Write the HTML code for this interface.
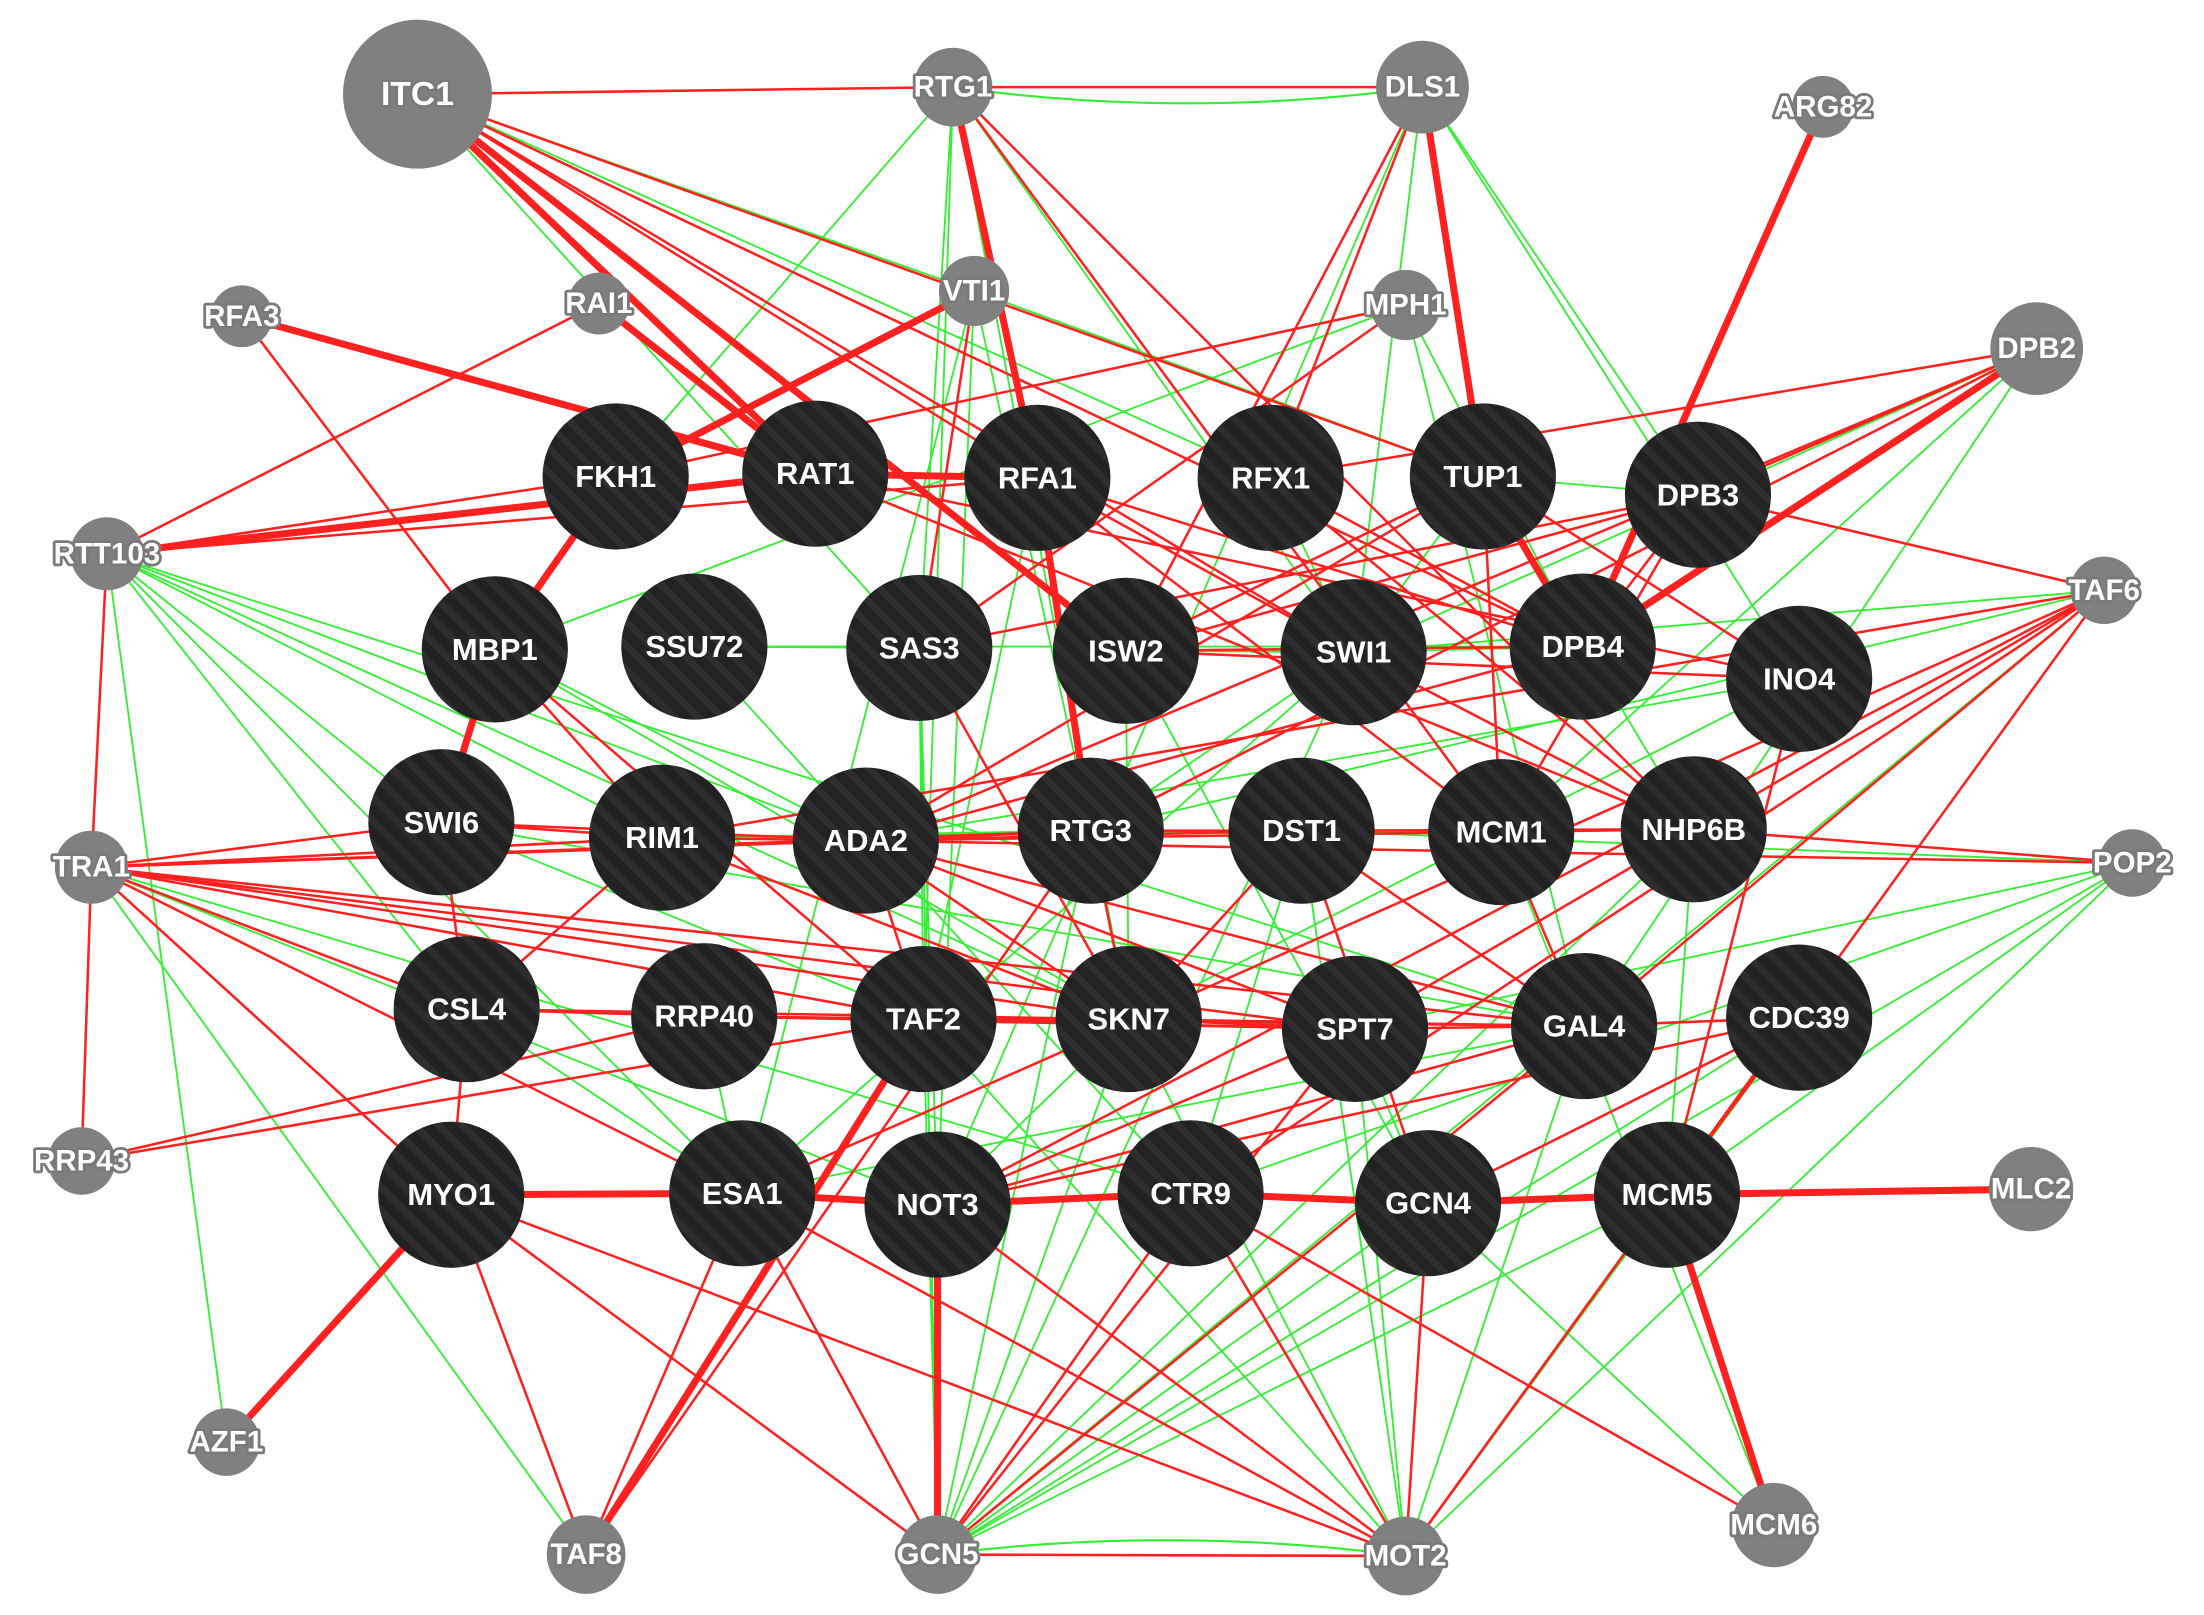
<!DOCTYPE html>
<html><head><meta charset="utf-8"><style>
html,body{margin:0;padding:0;background:#fff;}
svg{display:block;}
text{font-family:"Liberation Sans",sans-serif;font-weight:bold;text-anchor:middle;dominant-baseline:central;}
.g text{fill:#fff;font-size:21px;stroke:#7a7a7a;stroke-width:4px;paint-order:stroke;stroke-linejoin:round;}
.b text{fill:#fff;font-size:22px;}
</style></head><body>
<svg id="s" width="2204" height="1615" viewBox="0 0 1568 1149" xmlns="http://www.w3.org/2000/svg">
<defs>
<pattern id="st" width="12" height="12" patternUnits="userSpaceOnUse" patternTransform="rotate(-45)">
<rect width="12" height="12" fill="#222"/><rect width="5" height="12" fill="#2e2e2e"/>
</pattern>
</defs>
<g fill="none">
<path d="M678,62 Q845,85 1012,62" stroke="#33ee33" stroke-width="1.5"/>
<path d="M667,1106 Q833,1085 1000,1107" stroke="#33ee33" stroke-width="1.5"/>
</g>
<g id="edges"></g>
<g class="g">
<circle cx="297" cy="67" r="53" fill="#808080"/><text x="297" y="67" style="font-size:24px">ITC1</text>
<circle cx="678" cy="62" r="28" fill="#808080"/><text x="678" y="62">RTG1</text>
<circle cx="1012" cy="62" r="33" fill="#808080"/><text x="1012" y="62">DLS1</text>
<circle cx="1297" cy="76" r="22" fill="#808080"/><text x="1297" y="76">ARG82</text>
<circle cx="172" cy="225" r="22" fill="#808080"/><text x="172" y="225">RFA3</text>
<circle cx="426" cy="216" r="22" fill="#808080"/><text x="426" y="216">RAI1</text>
<circle cx="693" cy="207" r="25" fill="#808080"/><text x="693" y="207">VTI1</text>
<circle cx="1000" cy="217" r="25" fill="#808080"/><text x="1000" y="217">MPH1</text>
<circle cx="1449" cy="248" r="33" fill="#808080"/><text x="1449" y="248">DPB2</text>
<circle cx="76" cy="394" r="26" fill="#808080"/><text x="76" y="394">RTT103</text>
<circle cx="1497" cy="420" r="24" fill="#808080"/><text x="1497" y="420">TAF6</text>
<circle cx="65" cy="617" r="26" fill="#808080"/><text x="65" y="617">TRA1</text>
<circle cx="1517" cy="614" r="24" fill="#808080"/><text x="1517" y="614">POP2</text>
<circle cx="58" cy="826" r="24" fill="#808080"/><text x="58" y="826">RRP43</text>
<circle cx="1445" cy="846" r="30" fill="#808080"/><text x="1445" y="846">MLC2</text>
<circle cx="161" cy="1026" r="24" fill="#808080"/><text x="161" y="1026">AZF1</text>
<circle cx="417" cy="1106" r="28" fill="#808080"/><text x="417" y="1106">TAF8</text>
<circle cx="667" cy="1106" r="28" fill="#808080"/><text x="667" y="1106">GCN5</text>
<circle cx="1000" cy="1107" r="28" fill="#808080"/><text x="1000" y="1107">MOT2</text>
<circle cx="1262" cy="1085" r="30" fill="#808080"/><text x="1262" y="1085">MCM6</text>
</g>
<g class="b">
<circle cx="438" cy="339" r="52" fill="url(#st)"/><text x="438" y="339">FKH1</text>
<circle cx="580" cy="337" r="52" fill="url(#st)"/><text x="580" y="337">RAT1</text>
<circle cx="738" cy="340" r="52" fill="url(#st)"/><text x="738" y="340">RFA1</text>
<circle cx="904" cy="340" r="52" fill="url(#st)"/><text x="904" y="340">RFX1</text>
<circle cx="1055" cy="339" r="52" fill="url(#st)"/><text x="1055" y="339">TUP1</text>
<circle cx="1208" cy="352" r="52" fill="url(#st)"/><text x="1208" y="352">DPB3</text>
<circle cx="352" cy="462" r="52" fill="url(#st)"/><text x="352" y="462">MBP1</text>
<circle cx="494" cy="460" r="52" fill="url(#st)"/><text x="494" y="460">SSU72</text>
<circle cx="654" cy="461" r="52" fill="url(#st)"/><text x="654" y="461">SAS3</text>
<circle cx="801" cy="463" r="52" fill="url(#st)"/><text x="801" y="463">ISW2</text>
<circle cx="963" cy="464" r="52" fill="url(#st)"/><text x="963" y="464">SWI1</text>
<circle cx="1126" cy="460" r="52" fill="url(#st)"/><text x="1126" y="460">DPB4</text>
<circle cx="1280" cy="483" r="52" fill="url(#st)"/><text x="1280" y="483">INO4</text>
<circle cx="314" cy="585" r="52" fill="url(#st)"/><text x="314" y="585">SWI6</text>
<circle cx="471" cy="596" r="52" fill="url(#st)"/><text x="471" y="596">RIM1</text>
<circle cx="616" cy="598" r="52" fill="url(#st)"/><text x="616" y="598">ADA2</text>
<circle cx="776" cy="591" r="52" fill="url(#st)"/><text x="776" y="591">RTG3</text>
<circle cx="926" cy="591" r="52" fill="url(#st)"/><text x="926" y="591">DST1</text>
<circle cx="1068" cy="592" r="52" fill="url(#st)"/><text x="1068" y="592">MCM1</text>
<circle cx="1205" cy="590" r="52" fill="url(#st)"/><text x="1205" y="590">NHP6B</text>
<circle cx="332" cy="718" r="52" fill="url(#st)"/><text x="332" y="718">CSL4</text>
<circle cx="501" cy="723" r="52" fill="url(#st)"/><text x="501" y="723">RRP40</text>
<circle cx="657" cy="725" r="52" fill="url(#st)"/><text x="657" y="725">TAF2</text>
<circle cx="803" cy="725" r="52" fill="url(#st)"/><text x="803" y="725">SKN7</text>
<circle cx="964" cy="732" r="52" fill="url(#st)"/><text x="964" y="732">SPT7</text>
<circle cx="1127" cy="730" r="52" fill="url(#st)"/><text x="1127" y="730">GAL4</text>
<circle cx="1280" cy="724" r="52" fill="url(#st)"/><text x="1280" y="724">CDC39</text>
<circle cx="321" cy="850" r="52" fill="url(#st)"/><text x="321" y="850">MYO1</text>
<circle cx="528" cy="849" r="52" fill="url(#st)"/><text x="528" y="849">ESA1</text>
<circle cx="667" cy="857" r="52" fill="url(#st)"/><text x="667" y="857">NOT3</text>
<circle cx="847" cy="849" r="52" fill="url(#st)"/><text x="847" y="849">CTR9</text>
<circle cx="1016" cy="856" r="52" fill="url(#st)"/><text x="1016" y="856">GCN4</text>
<circle cx="1186" cy="850" r="52" fill="url(#st)"/><text x="1186" y="850">MCM5</text>
</g>
</svg>
<script>
var P={ITC1:[297,67],RTG1:[678,62],DLS1:[1012,62],ARG82:[1297,76],RFA3:[172,225],RAI1:[426,216],VTI1:[693,207],MPH1:[1000,217],DPB2:[1449,248],RTT103:[76,394],TAF6:[1497,420],TRA1:[65,617],POP2:[1517,614],RRP43:[58,826],MLC2:[1445,846],AZF1:[161,1026],TAF8:[417,1106],GCN5:[667,1106],MOT2:[1000,1107],MCM6:[1262,1085],
FKH1:[438,339],RAT1:[580,337],RFA1:[738,340],RFX1:[904,340],TUP1:[1055,339],DPB3:[1208,352],MBP1:[352,462],SSU72:[494,460],SAS3:[654,461],ISW2:[801,463],SWI1:[963,464],DPB4:[1126,460],INO4:[1280,483],SWI6:[314,585],RIM1:[471,596],ADA2:[616,598],RTG3:[776,591],DST1:[926,591],MCM1:[1068,592],NHP6B:[1205,590],CSL4:[332,718],RRP40:[501,723],TAF2:[657,725],SKN7:[803,725],SPT7:[964,732],GAL4:[1127,730],CDC39:[1280,724],MYO1:[321,850],ESA1:[528,849],NOT3:[667,857],CTR9:[847,849],GCN4:[1016,856],MCM5:[1186,850]};
var thick="ITC1-RAT1 ITC1-ISW2 RFA3-RAT1 RTT103-RAT1 RTG1-RFA1 RFA1-RTG3 DLS1-TUP1 ARG82-DPB4 DPB2-DPB4 MYO1-ESA1 ESA1-NOT3 NOT3-CTR9 CTR9-GCN4 GCN4-MCM5 MCM5-MLC2 MCM5-MCM6 AZF1-MYO1 TAF8-TAF2 GCN5-NOT3 FKH1-MBP1 MBP1-SWI6 RAI1-RAT1 TUP1-DPB4 RAT1-RFA1 VTI1-FKH1";
var red="ITC1-RTG1 RTG1-DLS1 ITC1-RFA1 ITC1-TUP1 ITC1-DPB4 RTG1-NHP6B DLS1-RFX1 DLS1-ISW2 RFA3-MBP1 RAI1-RTT103 RTT103-FKH1 RTT103-TRA1 TRA1-RRP43 RTT103-RFA1 MPH1-SAS3 MPH1-FKH1 VTI1-SAS3 DPB2-RFX1 DPB2-ADA2 DPB2-DPB3 DPB2-RTG3 TAF6-DPB3 TAF6-RIM1 TAF6-GAL4 TAF6-SPT7 TAF6-NOT3 TAF6-CTR9 TAF6-MOT2 TAF6-ESA1 TRA1-SWI6 TRA1-RIM1 TRA1-ADA2 TRA1-RTG3 TRA1-SKN7 TRA1-GAL4 TRA1-MYO1 TRA1-CSL4 TRA1-TAF2 TRA1-ESA1 TRA1-SPT7 POP2-NHP6B POP2-ADA2 RRP43-RRP40 RRP43-TAF2 MBP1-RIM1 MBP1-TAF2 SWI6-RIM1 SWI6-ADA2 SWI6-CSL4 RIM1-ADA2 RIM1-CSL4 RIM1-SKN7 ADA2-RTG3 ADA2-DST1 ADA2-NHP6B ADA2-TAF2 ADA2-SKN7 ADA2-SPT7 ADA2-GAL4 ADA2-TUP1 ADA2-DPB4 RTG3-DST1 RTG3-SKN7 SAS3-SKN7 SAS3-DPB3 ISW2-DPB4 ISW2-INO4 ISW2-TUP1 RFA1-SWI1 RFA1-MCM1 RFX1-NHP6B RFX1-DPB4 TUP1-INO4 TUP1-MCM1 DPB3-ISW2 DPB3-DPB4 DPB3-MCM1 SWI1-NHP6B DST1-NHP6B DST1-GAL4 DST1-SKN7 MCM1-GAL4 GAL4-CDC39 GAL4-SPT7 SPT7-SKN7 SKN7-TAF2 CSL4-MYO1 CSL4-GAL4 RRP40-SPT7 TAF2-SPT7 NOT3-GAL4 NOT3-SPT7 NOT3-CDC39 ESA1-GCN5 ESA1-MOT2 MYO1-GCN5 MYO1-TAF8 MYO1-MOT2 GCN5-GAL4 GCN5-SPT7 GCN5-CTR9 GCN5-MOT2 MOT2-MCM5 MOT2-GCN4 MOT2-CTR9 MOT2-NOT3 GCN4-DST1 GCN4-CDC39 MCM5-CDC39 MCM5-INO4 MCM6-CTR9 TAF8-ESA1 TAF8-RTG3 RAT1-INO4 RAT1-NHP6B ITC1-SWI1 RFA1-DPB4 RTG1-MCM1 CSL4-RRP40 RRP40-GAL4";
var green="ITC1-VTI1 ITC1-RFX1 ITC1-SAS3 RTG1-SWI1 RTG1-SAS3 RTG1-FKH1 RTG1-SKN7 RTG1-TAF2 DLS1-DPB3 DLS1-SWI1 DLS1-INO4 DLS1-NOT3 VTI1-RTG3 VTI1-ESA1 VTI1-NOT3 VTI1-TUP1 MPH1-DPB4 MPH1-MBP1 MPH1-GAL4 DPB2-SWI1 DPB2-GAL4 DPB2-MCM1 RTT103-SWI6 RTT103-RIM1 RTT103-ADA2 RTT103-SKN7 RTT103-CSL4 RTT103-AZF1 RTT103-GAL4 RTT103-ESA1 TRA1-NOT3 TRA1-CTR9 TRA1-TAF8 TAF6-SWI1 TAF6-RTG3 TAF6-MOT2 TAF6-GCN5 POP2-SPT7 POP2-GCN5 POP2-MOT2 POP2-MCM5 POP2-CTR9 POP2-DST1 SSU72-SAS3 SSU72-DPB4 SSU72-CTR9 SAS3-TAF2 SAS3-NOT3 SAS3-GCN5 ISW2-SWI1 ISW2-DPB4 ISW2-SKN7 ISW2-GCN4 SWI1-DPB4 SWI1-GCN5 SWI1-ESA1 SWI1-RTG3 RTG3-DST1 RTG3-MCM1 RTG3-GCN5 DST1-MCM1 DST1-CTR9 DST1-MOT2 MCM1-NHP6B NHP6B-GCN5 NHP6B-MCM5 NHP6B-RIM1 INO4-SKN7 INO4-ADA2 CDC39-GCN5 CDC39-MOT2 GAL4-MOT2 GAL4-GCN5 GAL4-ESA1 MCM5-GCN5 MCM5-MCM6 SPT7-MOT2 SPT7-GCN4 SKN7-NOT3 SKN7-MOT2 SKN7-GCN5 TAF2-MOT2 TAF2-GCN5 ESA1-GCN5 MYO1-GCN5 MYO1-TAF8 RRP40-ESA1 RRP40-TAF2 CSL4-ESA1 SWI6-ADA2 SWI6-TAF2 SWI6-GAL4 MBP1-ADA2 MBP1-SKN7 RIM1-DST1 RIM1-RTG3 RFA1-TAF2 TUP1-DPB3 TUP1-SWI1 TUP1-NHP6B RFX1-SWI1 GCN4-GCN5 CTR9-MOT2 MCM6-GCN4 MCM6-MCM1";
var g=document.getElementById('edges'),NS="http://www.w3.org/2000/svg";
function add(list,col,w){list.split(/\s+/).forEach(function(e){var p=e.split('-'),a=P[p[0]],b=P[p[1]];if(!a||!b)return;var l=document.createElementNS(NS,'line');l.setAttribute('x1',a[0]);l.setAttribute('y1',a[1]);l.setAttribute('x2',b[0]);l.setAttribute('y2',b[1]);l.setAttribute('stroke',col);l.setAttribute('stroke-width',w);g.appendChild(l);});}
add(green,'#33ee33',1.3);add(red,'#ff2020',1.8);add(thick,'#ff2020',5);
</script>
</body></html>
